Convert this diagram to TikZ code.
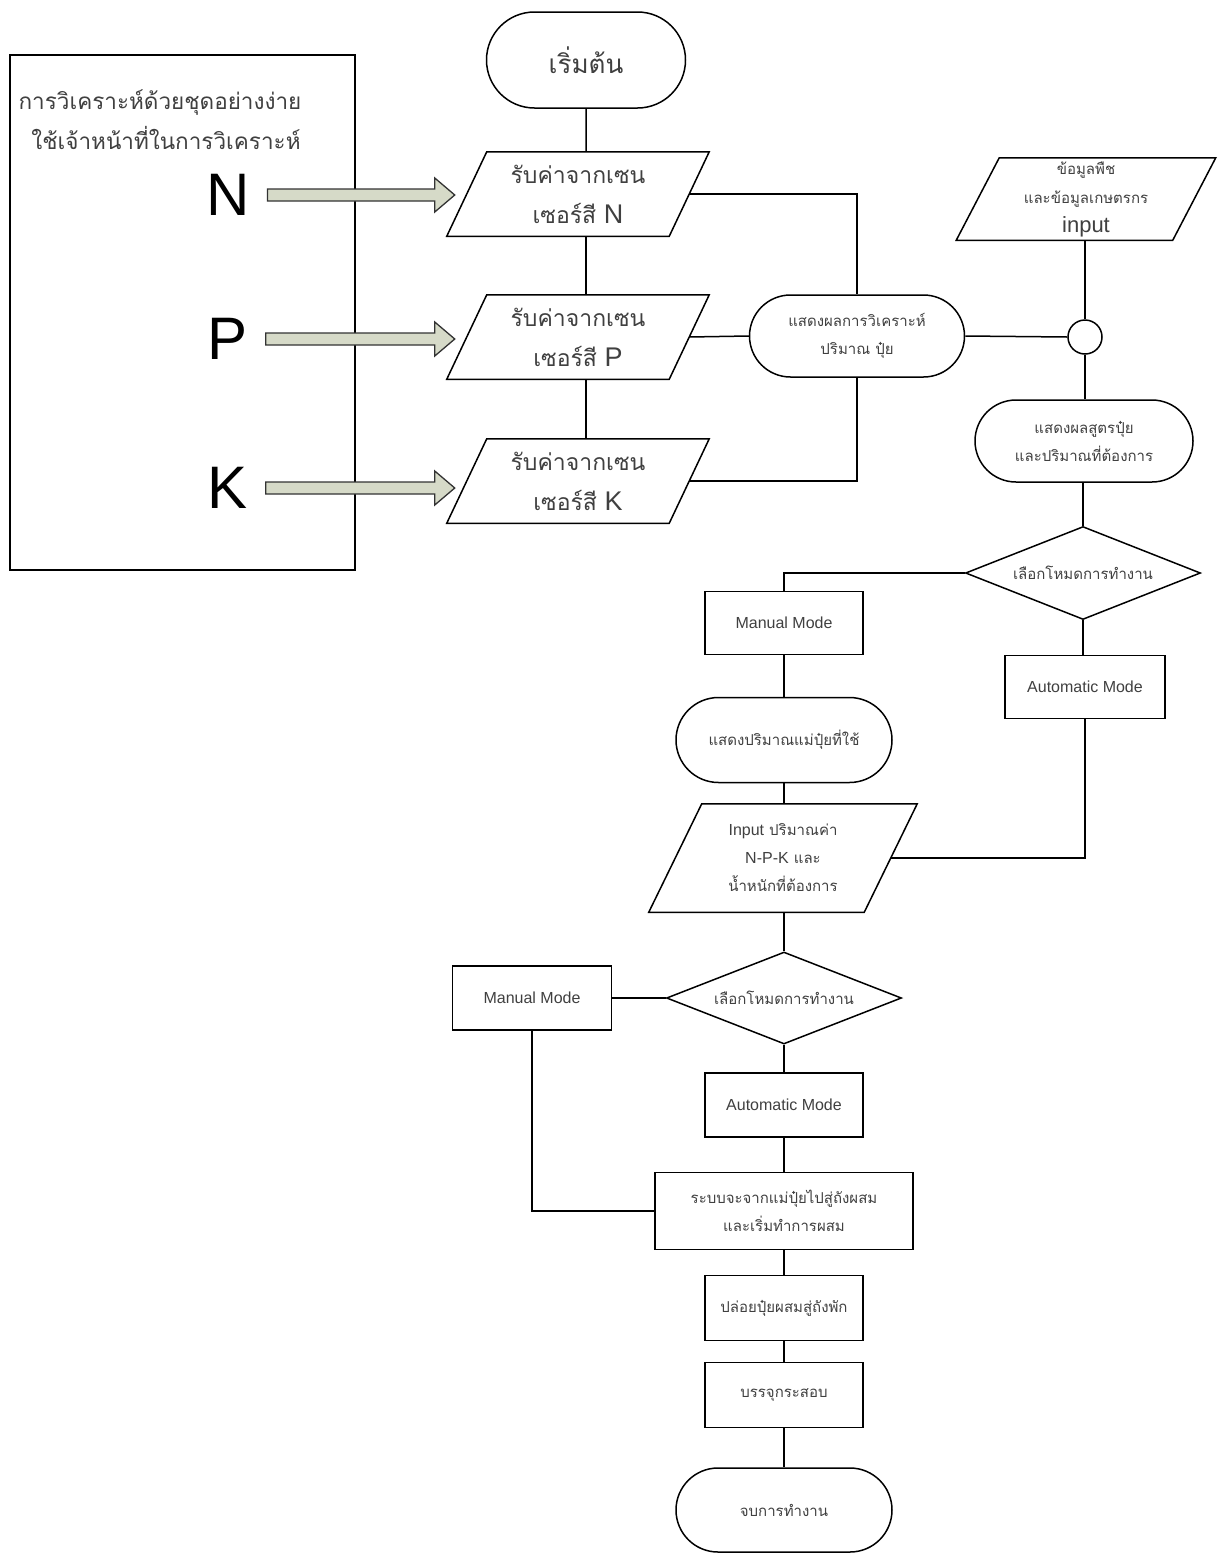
\documentclass[tikz,border=0pt]{standalone}
\usepackage{fontspec}
\setmainfont{Liberation Sans}
\newfontfamily\thai[Script=Thai]{Loma}
\newfontfamily\lat{Liberation Sans}
\usetikzlibrary{shapes.geometric,shapes.misc,calc}
\definecolor{arrowfill}{RGB}{214,218,200}
\newcommand\smalltxt{\fontsize{15}{28}\selectfont}
\newcommand\latsmall{\fontsize{16}{28}\selectfont\lat}
\newcommand\paraframe[2]{%
  \draw ($(#1.north west)+(#2,0)$) -- ($(#1.north east)+(#2,0)$) --
        ($(#1.south east)-(#2,0)$) -- ($(#1.south west)-(#2,0)$) -- cycle;}
\newcommand\blockarr[2]{%
  \path[blockarrow] let \p1=($(#1.east)+(17,0)$), \p2=($(#2.west)-(12,0)$) in
    (\x1,\y1+6pt) -- (\x2-20pt,\y1+6pt) -- (\x2-20pt,\y1+17pt) -- (\x2,\y1) --
    (\x2-20pt,\y1-17pt) -- (\x2-20pt,\y1-6pt) -- (\x1,\y1-6pt) -- cycle;}
\begin{document}
\begin{tikzpicture}[x=1pt,y=-1pt,line width=1.5pt,
  every node/.style={text=black!75},
  box/.style={draw, rectangle, inner sep=0pt, align=center, font=\smalltxt},
  term/.style={draw, rounded rectangle, inner sep=0pt, align=center, font=\smalltxt\thai},
  paranode/.style={rectangle, inner sep=0pt, align=center},
  dec/.style={draw, diamond, inner sep=0pt, aspect=2.5, font=\smalltxt\thai},
  bigletter/.style={font=\fontsize{60}{60}\selectfont\lat, text=black, inner sep=0pt},
  sensortxt/.style={font=\fontsize{23}{40}\selectfont\thai},
  blockarrow/.style={draw=black!80, line width=1.3pt, fill=arrowfill},
  line/.style={draw, line width=1.5pt}]
\useasboundingbox (0,0) rectangle (1221,1553);
\fill[white] (0,0) rectangle (1221,1553);

% left box
\node[draw, rectangle, minimum width=345, minimum height=515, inner sep=0pt] (lbox) at (182.5,312.5) {};
\node[font=\fontsize{22.5}{40}\selectfont\thai, align=center] (ltxt) at (160,120)
  {การวิเคราะห์ด้วยชุดอย่างง่าย\\ \hspace*{12pt}ใช้เจ้าหน้าที่ในการวิเคราะห์};
\node[bigletter] (ln) at (228,195) {N};
\node[bigletter] (lp) at (228,339) {P};
\node[bigletter] (lk) at (228,488) {K};

% start
\node[term, minimum width=199, minimum height=96, font=\fontsize{26}{30}\selectfont\thai] (start) at (586,60) {เริ่มต้น};

% sensors
\node[paranode, sensortxt, minimum width=221, minimum height=83] (sN) at (578,194) {รับค่าจากเซน\\ เซอร์สี {\fontsize{27}{40}\selectfont\lat N}};
\node[paranode, sensortxt, minimum width=221, minimum height=83] (sP) at (578,337) {รับค่าจากเซน\\ เซอร์สี {\fontsize{27}{40}\selectfont\lat P}};
\node[paranode, sensortxt, minimum width=221, minimum height=83] (sK) at (578,481) {รับค่าจากเซน\\ เซอร์สี {\fontsize{27}{40}\selectfont\lat K}};
\paraframe{sN}{20}
\paraframe{sP}{20}
\paraframe{sK}{20}

\blockarr{ln}{sN}
\blockarr{lp}{sP}
\blockarr{lk}{sK}

% display 1
\node[term, minimum width=215, minimum height=82] (d1) at (857,336) {แสดงผลการวิเคราะห์\\ ปริมาณ ปุ๋ย};

% input parallelogram
\node[paranode, minimum width=215, minimum height=81, font=\fontsize{15}{29}\selectfont\thai] (inp) at (1086,199)
  {ข้อมูลพืช\\ และข้อมูลเกษตรกร\\ {\fontsize{22}{29}\selectfont\lat input}};
\paraframe{inp}{21.5}

\node[draw, circle, minimum size=34, inner sep=0pt] (cir) at (1085,337) {};

\node[term, minimum width=218, minimum height=82] (d2) at (1084,441) {แสดงผลสูตรปุ๋ย\\ และปริมาณที่ต้องการ};

\node[dec, minimum width=235, minimum height=93] (dia1) at (1083,573) {เลือกโหมดการทำงาน};

\node[box, minimum width=158, minimum height=63, font=\latsmall] (man1) at (784,623) {Manual Mode};
\node[box, minimum width=160, minimum height=63, font=\latsmall] (auto1) at (1085,687) {Automatic Mode};

\node[term, minimum width=216, minimum height=85] (d3) at (784,740) {แสดงปริมาณแม่ปุ๋ยที่ใช้};

\node[paranode, minimum width=214, minimum height=107, font=\smalltxt\thai] (npk) at (783,858)
  {{\latsmall Input} ปริมาณค่า\\ {\latsmall N-P-K} และ\\ น้ำหนักที่ต้องการ};
\paraframe{npk}{26.5}

\node[dec, minimum width=235, minimum height=92] (dia2) at (784,998) {เลือกโหมดการทำงาน};

\node[box, minimum width=159, minimum height=64, font=\latsmall] (man2) at (532,998) {Manual Mode};
\node[box, minimum width=158, minimum height=64, font=\latsmall] (auto2) at (784,1105) {Automatic Mode};

\node[box, minimum width=258, minimum height=77, font=\smalltxt\thai] (mix) at (784,1211) {ระบบจะจากแม่ปุ๋ยไปสู่ถังผสม\\ และเริ่มทำการผสม};
\node[box, minimum width=158, minimum height=65, font=\smalltxt\thai] (rel) at (784,1308) {ปล่อยปุ๋ยผสมสู่ถังพัก};
\node[box, minimum width=158, minimum height=65, font=\smalltxt\thai] (pack) at (784,1395) {บรรจุกระสอบ};
\node[term, minimum width=216, minimum height=84] (fin) at (784,1510) {จบการทำงาน};

% connectors
\draw[line] (start) -- (start |- sN.north);
\draw[line] (sN.south -| start) -- (sP.north -| start);
\draw[line] (sP.south -| start) -- (sK.north -| start);
\draw[line] (sN.east) -| (d1.north);
\draw[line] (sK.east) -| (d1.south);
\draw[line] (sP.east) -- (d1.west);
\draw[line] (d1.east) -- (cir.west);
\draw[line] (inp.south -| cir) -- (cir.north);
\draw[line] (cir.south) -- (d2.north -| cir);
\draw[line] (d2.south -| dia1) -- (dia1.north);
\draw[line] (dia1.west) -| (man1.north);
\draw[line] (dia1.south) -- (auto1.north -| dia1);
\draw[line] (auto1.south) |- (npk.east);
\draw[line] (man1.south) -- (d3.north);
\draw[line] (d3.south) -- (npk.north -| d3);
\draw[line] (npk.south -| dia2) -- (dia2.north);
\draw[line] (dia2.west) -- (man2.east);
\draw[line] (dia2.south) -- (auto2.north);
\draw[line] (auto2.south) -- (mix.north);
\draw[line] (man2.south) |- (mix.west);
\draw[line] (mix.south) -- (rel.north);
\draw[line] (rel.south) -- (pack.north);
\draw[line] (pack.south) -- (fin.north);
\end{tikzpicture}
\end{document}
